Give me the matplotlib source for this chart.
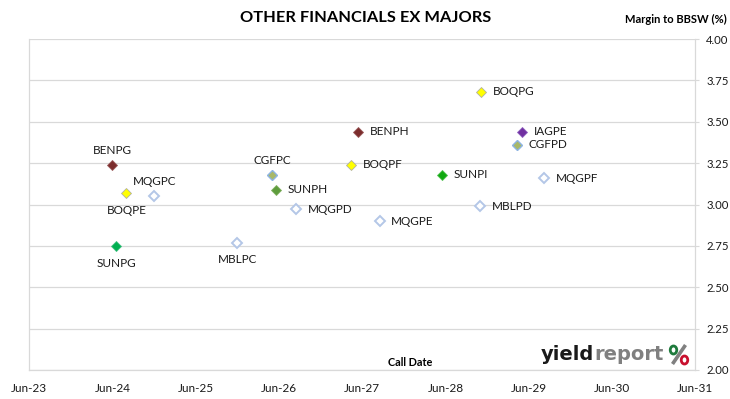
import matplotlib
matplotlib.use("Agg")
import matplotlib.pyplot as plt
import matplotlib.dates as mdates
from matplotlib.patches import Ellipse
from matplotlib.lines import Line2D
import datetime as dt

plt.rcParams['font.family'] = ['Lato', 'DejaVu Sans']

names = ['BENPG', 'SUNPG', 'BOQPE', 'MQGPC', 'MBLPC', 'CGFPC', 'SUNPH', 'MQGPD',
         'BOQPF', 'BENPH', 'MQGPE', 'SUNPI', 'MBLPD', 'BOQPG', 'CGFPD', 'IAGPE', 'MQGPF']
call_dates = ['2024-06-01', '2024-06-17', '2024-08-01', '2024-12-01', '2025-12-01',
              '2026-05-04', '2026-05-21', '2026-08-15', '2027-04-12', '2027-05-14',
              '2027-08-17', '2028-05-15', '2028-10-29', '2028-11-03', '2029-04-11',
              '2029-05-03', '2029-08-08']
margins = [3.24, 2.75, 3.07, 3.05, 2.77, 3.18, 3.09, 2.97, 3.24, 3.44,
           2.90, 3.18, 2.99, 3.68, 3.36, 3.44, 3.16]
issuer = ['BEN', 'SUNG', 'BOQ', 'MQG', 'MQG', 'CGF', 'SUNH', 'MQG', 'BOQ', 'BEN',
          'MQG', 'SUNI', 'MQG', 'BOQ', 'CGF', 'IAG', 'MQG']
label_pos = ['above', 'below', 'below', 'above', 'below', 'above', 'right', 'right',
             'right', 'right', 'right', 'right', 'right', 'right', 'right', 'right', 'right']

x_ticks = ['2023-06-01', '2024-06-01', '2025-06-01', '2026-06-01', '2027-06-01',
           '2028-06-01', '2029-06-01', '2030-06-01', '2031-06-01']
y_ticks = [2.00, 2.25, 2.50, 2.75, 3.00, 3.25, 3.50, 3.75, 4.00]

styles = {
    'BEN': dict(mfc='#7b2c2c', mec='#9a5a5a', mew=0.6),
    'BOQ': dict(mfc='#ffff00', mec='#b0b0a0', mew=0.6),
    'MQG': dict(mfc='white', mec='#b4c7e7', mew=1.4),
    'SUNG': dict(mfc='#00b050', mec='#40c080', mew=0.6),
    'SUNH': dict(mfc='#5e9c3c', mec='#80b060', mew=0.6),
    'SUNI': dict(mfc='#10a810', mec='#50c050', mew=0.6),
    'CGF': dict(mfc='#a8b868', mec='#8eb4e3', mew=1.0),
    'IAG': dict(mfc='#7030a0', mec='#9060c0', mew=0.6),
}

fig = plt.figure(figsize=(7.30, 3.99), dpi=100)
ax = fig.add_axes([29/730, 1-370/399, (695-29)/730, (370-39)/399])

xd = [dt.datetime.strptime(d, '%Y-%m-%d') for d in call_dates]
for x, y, n, iss, lp in zip(xd, margins, names, issuer, label_pos):
    ax.plot([x], [y], linestyle='none', marker='D', markersize=4.6, zorder=3, **styles[iss])
    if lp == 'above':
        ax.annotate(n, (x, y), xytext=(0, 6.5), textcoords='offset points',
                    ha='center', va='bottom', fontsize=8.5, color='#1a1a1a')
    elif lp == 'below':
        ax.annotate(n, (x, y), xytext=(0, -8.5), textcoords='offset points',
                    ha='center', va='top', fontsize=8.5, color='#1a1a1a')
    else:
        ax.annotate(n, (x, y), xytext=(8.5, 0), textcoords='offset points',
                    ha='left', va='center', fontsize=8.5, color='#1a1a1a')

xt = [dt.datetime.strptime(d, '%Y-%m-%d') for d in x_ticks]
ax.set_xlim(xt[0], xt[-1])
ax.set_xticks(xt)
ax.xaxis.set_major_formatter(mdates.DateFormatter('%b-%y'))
ax.set_ylim(2.0, 4.0)
ax.set_yticks(y_ticks)
ax.set_yticklabels([f'{v:.2f}' for v in y_ticks])
ax.yaxis.tick_right()
ax.tick_params(axis='y', length=3, color='#d9d9d9', pad=5, labelsize=8.2, labelcolor='#1a1a1a')
ax.tick_params(axis='x', length=0, pad=9, labelsize=8.5, labelcolor='#1a1a1a')
ax.grid(axis='y', color='#d9d9d9', linewidth=0.9)
ax.set_axisbelow(True)
for s in ['left', 'right', 'bottom']:
    ax.spines[s].set_color('#d9d9d9')
    ax.spines[s].set_linewidth(0.9)
ax.spines['top'].set_visible(False)

fig.text(366/730, 1-18/399, 'OTHER FINANCIALS EX MAJORS', ha='center', va='center',
         fontsize=11.8, fontweight='bold', color='black')
fig.text(727/730, 1-19/399, 'Margin to BBSW (%)', ha='right', va='center',
         fontsize=8, fontweight='bold', color='black')
fig.text(410/730, 1-363/399, 'Call Date', ha='center', va='center',
         fontsize=7.8, fontweight='bold', color='black')

# logo
fig.text(594/730, 1-354/399, 'yield', ha='right', va='center', fontsize=14,
         fontweight='bold', color='#1a1a1a', family='DejaVu Sans')
fig.text(594/730, 1-354/399, 'report', ha='left', va='center', fontsize=14,
         fontweight='bold', color='#808080', family='DejaVu Sans')
def fx(px):
    return px / 730
def fy(py):
    return 1 - py / 399
fig.lines.append(Line2D([fx(685.5), fx(672.5)], [fy(345), fy(364)], transform=fig.transFigure,
                        color='#808080', linewidth=2.6, solid_capstyle='butt'))
fig.patches.append(Ellipse((fx(673.5), fy(350)), 6.5/730, 8/399, transform=fig.transFigure,
                           facecolor='white', edgecolor='#1e7a3c', linewidth=2.0, zorder=5))
fig.patches.append(Ellipse((fx(684.5), fy(360)), 6.5/730, 8/399, transform=fig.transFigure,
                           facecolor='white', edgecolor='#c8102e', linewidth=2.0, zorder=5))

fig.savefig('out.png', dpi=100, facecolor='white')
